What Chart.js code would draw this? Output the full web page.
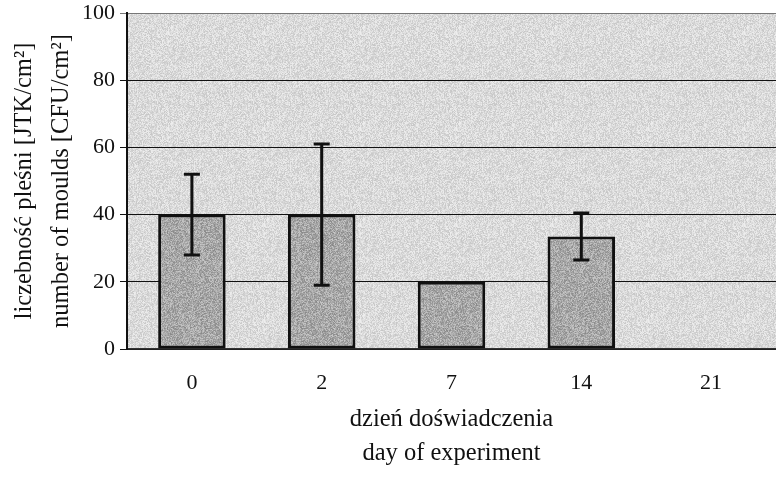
<!DOCTYPE html>
<html>
<head>
<meta charset="utf-8">
<script src="https://cdn.jsdelivr.net/npm/chart.js@4/dist/chart.umd.min.js"></script>
<style>
  html, body { margin: 0; padding: 0; background: #fff; }
  #wrap { width: 776px; height: 478px; }
</style>
</head>
<body>
<div id="wrap"><canvas id="myChart" width="776" height="478"></canvas></div>
<script>
// dane
const days = ["0", "2", "7", "14", "21"];
const moulds = [40, 40, 20, 33.5, null];
const errUp = [12, 21, null, 7, null];
const errDown = [12, 21, null, 7, null];
const yTicks = [0, 20, 40, 60, 80, 100];

const serif = "'Liberation Serif', 'Times New Roman', serif";

// szum jak na skanie
function makeNoise(base, spread, seed) {
	const c = document.createElement("canvas");
	c.width = 96;
	c.height = 96;
	const g = c.getContext("2d");
	const img = g.createImageData(96, 96);
	let s = seed;
	for (let i = 0; i < img.data.length; i += 4) {
		s = (s * 1103515245 + 12345) & 0x7fffffff;
		const r = (s % 1000) / 1000;
		const v = Math.round(base + (r - 0.5) * spread - (r > 0.9 ? 40 : 0));
		img.data[i] = v;
		img.data[i + 1] = v;
		img.data[i + 2] = v;
		img.data[i + 3] = 255;
	}
	g.putImageData(img, 0, 0);
	return g.createPattern(c, "repeat");
}

const ctx = document.getElementById("myChart");
const bgPattern = makeNoise(222, 40, 7);
const barPattern = makeNoise(172, 70, 13);

// tło obszaru wykresu
const plotBg = {
	id: "plotBg",
	beforeDraw(chart) {
		const { ctx, chartArea: a } = chart;
		ctx.save();
		ctx.fillStyle = bgPattern;
		ctx.fillRect(a.left, a.top, a.right - a.left, a.bottom - a.top);
		ctx.restore();
	},
};

// słupki błędów
const errorBars = {
	id: "errorBars",
	afterDatasetsDraw(chart) {
		const { ctx } = chart;
		const y = chart.scales.y;
		const meta = chart.getDatasetMeta(0);
		ctx.save();
		ctx.strokeStyle = "#111";
		ctx.lineWidth = 3;
		meta.data.forEach((bar, i) => {
			if (moulds[i] == null || errUp[i] == null) return;
			const x = bar.x;
			const top = y.getPixelForValue(moulds[i] + errUp[i]);
			const bottom = y.getPixelForValue(moulds[i] - errDown[i]);
			ctx.beginPath();
			ctx.moveTo(x, top);
			ctx.lineTo(x, bottom);
			ctx.moveTo(x - 8, top);
			ctx.lineTo(x + 8, top);
			ctx.moveTo(x - 8, bottom);
			ctx.lineTo(x + 8, bottom);
			ctx.stroke();
		});
		ctx.restore();
	},
};

new Chart(ctx, {
	type: "bar",
	data: {
		labels: days,
		datasets: [
			{
				data: moulds,
				backgroundColor: barPattern,
				borderColor: "#111",
				borderWidth: 3,
				borderSkipped: false,
				barPercentage: 0.52,
				categoryPercentage: 1,
			},
		],
	},
	options: {
		responsive: false,
		animation: false,
		events: [],
		layout: { padding: { top: 13, right: 0, left: 0, bottom: 0 } },
		plugins: {
			legend: { display: false },
			tooltip: { enabled: false },
		},
		scales: {
			x: {
				grid: { display: false },
				border: { display: true, color: "#333", width: 1.5 },
				ticks: {
					color: "#111",
					padding: 13,
					font: { family: serif, size: 22 },
				},
				title: {
					display: true,
					text: ["dzień doświadczenia", "day of experiment"],
					color: "#111",
					font: { family: serif, size: 24.5, lineHeight: 1.39 },
					padding: { top: 0, bottom: 7 },
				},
				afterFit(scale) {
					scale.height = 129;
				},
			},
			y: {
				min: 0,
				max: 100,
				afterBuildTicks(scale) {
					scale.ticks = yTicks.map((v) => ({ value: v }));
				},
				grid: {
					color: (c) => (c.tick && c.tick.value === 100 ? "#777" : "#111"),
					lineWidth: 1,
					tickLength: 7,
					drawTicks: true,
				},
				border: { display: true, color: "#111", width: 2 },
				ticks: {
					color: "#111",
					padding: 5,
					font: { family: serif, size: 22 },
				},
				title: {
					display: true,
					text: ["liczebność pleśni [JTK/cm²]", "number of moulds [CFU/cm²]"],
					color: "#111",
					font: { family: serif, size: 24.5, lineHeight: 1.5 },
					padding: { top: 6, bottom: 0 },
				},
				afterFit(scale) {
					scale.width = 127;
					scale.paddingTop = 0;
					scale.paddingBottom = 0;
				},
			},
		},
	},
	plugins: [plotBg, errorBars],
});
</script>
</body>
</html>
